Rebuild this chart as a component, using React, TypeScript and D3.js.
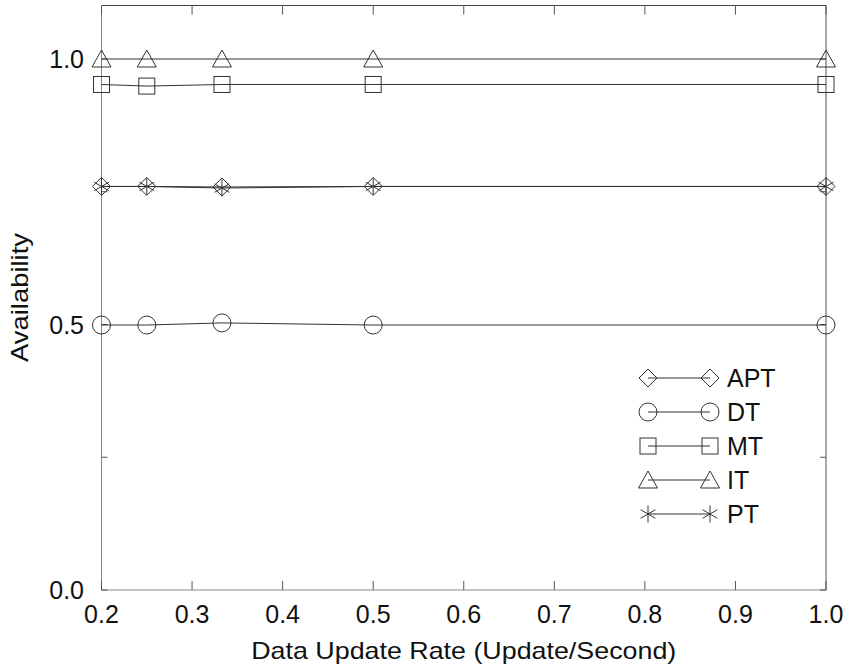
import React from "react";
import * as d3 from "d3";

const xValues = [0.2, 0.25, 0.333, 0.5, 1.0];
const seriesNames = ["APT", "DT", "MT", "IT", "PT"];
const aptValues = [0.76, 0.76, 0.759, 0.76, 0.76];
const dtValues = [0.499, 0.499, 0.503, 0.499, 0.499];
const mtValues = [0.952, 0.949, 0.952, 0.952, 0.952];
const itValues = [1.0, 1.0, 1.0, 1.0, 1.0];
const ptValues = [0.76, 0.76, 0.757, 0.76, 0.76];
const xTicks = [0.2, 0.3, 0.4, 0.5, 0.6, 0.7, 0.8, 0.9, 1.0];
const yLabelTicks = [0.0, 0.5, 1.0];
const yMinorTicks = [0.25, 0.75];
const xTitle = "Data Update Rate (Update/Second)";
const yTitle = "Availability";

const W = 845;
const H = 668;
const L = 101.5;
const R = 826;
const B = 590;
const T = 5.5;
const FONT = "'Liberation Sans', Arial, Helvetica, sans-serif";
const INK = "#333";

type Shape = "diamond" | "circle" | "square" | "triangle" | "star";

function Marker({ shape, x, y }: { shape: Shape; x: number; y: number }) {
  const common = { fill: "none", stroke: INK, strokeWidth: 1 };
  if (shape === "circle") return <circle cx={x} cy={y} r={9} {...common} />;
  if (shape === "square") return <rect x={x - 8} y={y - 8} width={16} height={16} {...common} />;
  if (shape === "triangle")
    return <path d={`M${x},${y - 9}L${x + 9.5},${y + 8}L${x - 9.5},${y + 8}Z`} {...common} />;
  if (shape === "diamond")
    return <path d={`M${x},${y - 9}L${x + 9},${y}L${x},${y + 9}L${x - 9},${y}Z`} {...common} />;
  const s = 8.5;
  const d = s * 0.87;
  return (
    <path
      d={`M${x},${y - s}L${x},${y + s}M${x - d},${y - s / 2}L${x + d},${y + s / 2}M${x - d},${y + s / 2}L${x + d},${y - s / 2}`}
      {...common}
    />
  );
}

export default function App() {
  const x = d3.scaleLinear().domain([0.2, 1.0]).range([L, R]);
  const y = d3.scaleLinear().domain([0, 1.1]).range([B, B - 1.1 * (B - 59)]);

  const series: { name: string; values: number[]; shape: Shape }[] = [
    { name: seriesNames[0], values: aptValues, shape: "diamond" },
    { name: seriesNames[1], values: dtValues, shape: "circle" },
    { name: seriesNames[2], values: mtValues, shape: "square" },
    { name: seriesNames[3], values: itValues, shape: "triangle" },
    { name: seriesNames[4], values: ptValues, shape: "star" },
  ];

  const line = d3
    .line<number>()
    .x((_, i) => x(xValues[i]))
    .y((v) => y(v));

  const legendX1 = 648;
  const legendX2 = 710;
  const legendY0 = 378;
  const legendStep = 34;

  return (
    <svg
      width={W}
      height={H}
      style={{ position: "absolute", left: 0, top: 0, background: "#fff" }}
      fontFamily={FONT}
    >
      <rect x={0} y={0} width={W} height={H} fill="#fff" />
      <line x1={L} x2={R} y1={T} y2={T} stroke="#444" />
      <line x1={R} x2={R} y1={T} y2={B} stroke="#555" />
      <line x1={L} x2={L} y1={T} y2={B} stroke="#888" />
      <line x1={L} x2={R} y1={B} y2={B} stroke="#888" />
      {xTicks.map((t) => (
        <g key={"xt" + t}>
          <line x1={x(t)} x2={x(t)} y1={B} y2={B - 9} stroke="#555" />
          <line x1={x(t)} x2={x(t)} y1={T} y2={T + 9} stroke="#555" />
          <text x={x(t)} y={623} fontSize={25} textAnchor="middle" fill="#111">
            {t.toFixed(1)}
          </text>
        </g>
      ))}
      {[...yLabelTicks, ...yMinorTicks].map((t) => (
        <g key={"yt" + t}>
          <line x1={L} x2={L + 6} y1={y(t)} y2={y(t)} stroke="#555" />
          <line x1={R} x2={R - 6} y1={y(t)} y2={y(t)} stroke="#555" />
        </g>
      ))}
      {yLabelTicks.map((t) => (
        <text
          key={"yl" + t}
          x={84}
          y={y(t)}
          dy="0.36em"
          fontSize={25}
          textAnchor="end"
          fill="#111"
        >
          {t.toFixed(1)}
        </text>
      ))}
      {series.map((s) => (
        <g key={s.name}>
          <path d={line(s.values) || ""} fill="none" stroke={INK} strokeWidth={1} />
          {s.values.map((v, i) => (
            <Marker key={i} shape={s.shape} x={x(xValues[i])} y={y(v)} />
          ))}
        </g>
      ))}
      {series.map((s, i) => {
        const ly = legendY0 + i * legendStep;
        return (
          <g key={"lg" + s.name}>
            <line x1={legendX1} x2={legendX2} y1={ly} y2={ly} stroke={INK} />
            <Marker shape={s.shape} x={legendX1} y={ly} />
            <Marker shape={s.shape} x={legendX2} y={ly} />
            <text x={727} y={ly} dy="0.36em" fontSize={25} fill="#111">
              {s.name}
            </text>
          </g>
        );
      })}
      <text
        x={(L + R) / 2}
        y={659}
        fontSize={24}
        textAnchor="middle"
        textLength={425}
        lengthAdjust="spacingAndGlyphs"
        fill="#111"
      >
        {xTitle}
      </text>
      <text
        transform={`translate(28, 297.5) rotate(-90)`}
        fontSize={24}
        textAnchor="middle"
        textLength={129}
        lengthAdjust="spacingAndGlyphs"
        fill="#111"
      >
        {yTitle}
      </text>
    </svg>
  );
}
